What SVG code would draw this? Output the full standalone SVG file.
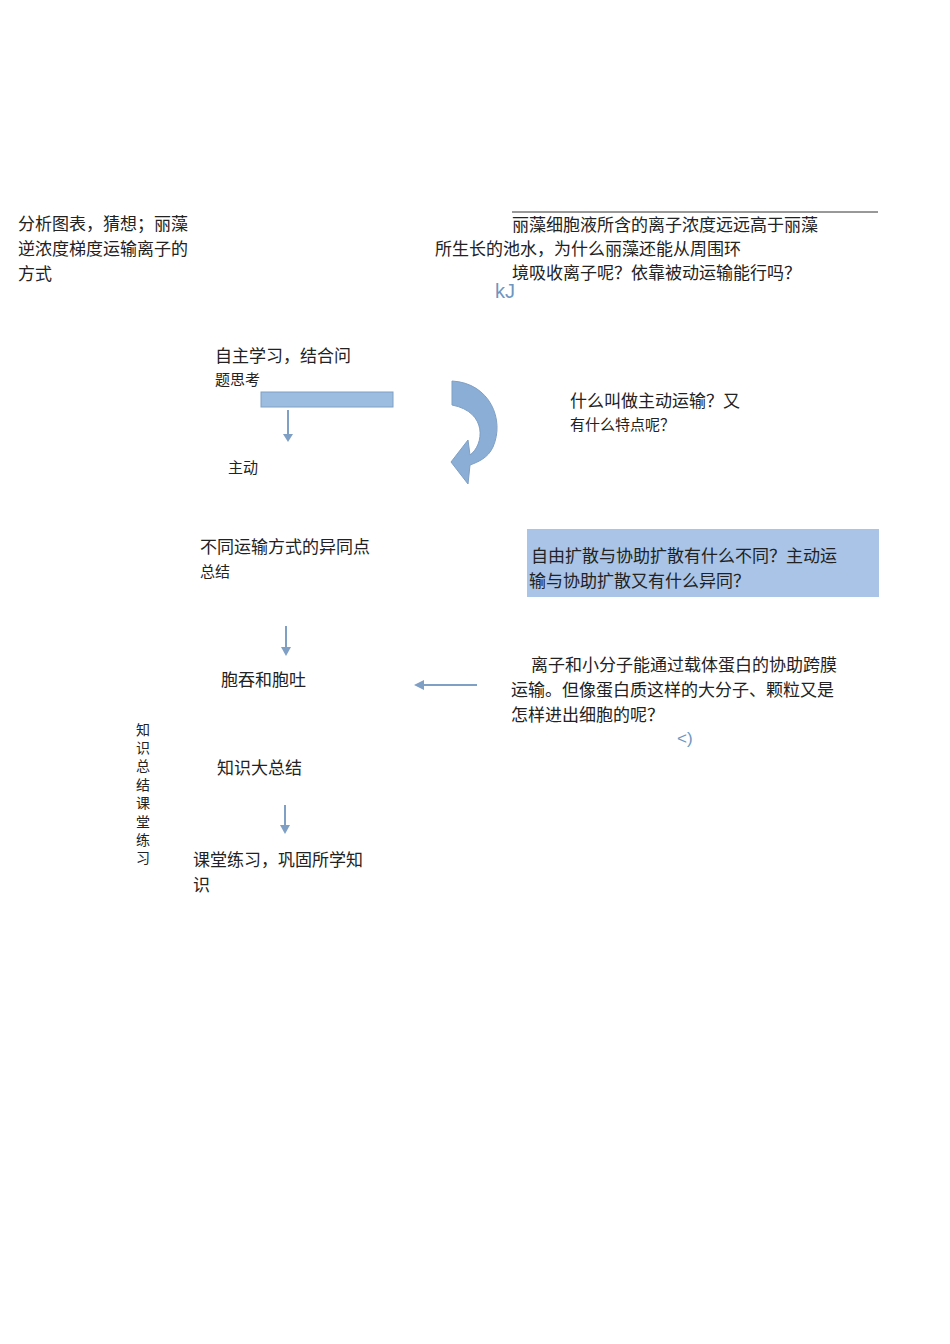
<svg xmlns="http://www.w3.org/2000/svg" width="950" height="1344" viewBox="0 0 950 1344">
<style>
text{font-family:"Noto Sans CJK SC","Noto Sans CJK JP",sans-serif;fill:#222;font-size:17px}
.s{font-size:15px}
.c{stroke:#7f9fc4;stroke-width:2;fill:none}
.h{fill:#7f9fc4}
</style>
<rect width="950" height="1344" fill="#fff"/>
<g id="n1"><text x="18" y="230">分析图表，猜想；丽藻</text><text x="18" y="255">逆浓度梯度运输离子的</text><text x="18" y="280">方式</text></g>
<g id="n2"><line x1="512" y1="212" x2="878" y2="212" stroke="#333" stroke-width="1"/><text x="512" y="231">丽藻细胞液所含的离子浓度远远高于丽藻</text><text x="435" y="255">所生长的池水，为什么丽藻还能从周围环</text><text x="512" y="279">境吸收离子呢？依靠被动运输能行吗？</text><text x="495" y="298" style="fill:#6f96c0;font-family:'Liberation Sans',sans-serif;font-size:20px">kJ</text></g>
<g id="n3"><text x="215" y="362">自主学习，结合问</text><text x="215" y="385" class="s">题思考</text><rect x="261" y="392" width="132" height="15" fill="#9dbde0" stroke="#7f9fc4"/><text x="228" y="473" class="s">主动</text></g>
<g id="n4"><text x="570" y="407">什么叫做主动运输？又</text><text x="570" y="430" class="s">有什么特点呢？</text></g>
<g id="curve"><path d="M452 381 C490 383 505 420 493 447 C488 458 478 462 470 465 L468 484 L451 462 L468 440 L470 455 C484 445 488 412 452 405 Z" fill="#8aaed6" stroke="#7f9fc4"/></g>
<g id="n5"><text x="200" y="553">不同运输方式的异同点</text><text x="200" y="577" class="s">总结</text></g>
<g id="n6"><rect x="527" y="529" width="352" height="68" fill="#a9c4e6"/><text x="531" y="562">自由扩散与协助扩散有什么不同？主动运</text><text x="529" y="587">输与协助扩散又有什么异同？</text></g>
<g id="n7"><text x="221" y="686">胞吞和胞吐</text></g>
<g id="n8"><text x="531" y="671">离子和小分子能通过载体蛋白的协助跨膜</text><text x="511" y="696">运输。但像蛋白质这样的大分子、颗粒又是</text><text x="511" y="721">怎样进出细胞的呢？</text><text x="677" y="744" style="fill:#6f96c0;font-family:'Liberation Sans',sans-serif">&lt;)</text></g>
<g id="n9"><text x="217" y="774">知识大总结</text></g>
<g id="n10"><text x="193" y="866">课堂练习，巩固所学知</text><text x="193" y="891">识</text></g>
<g id="n11" style="font-size:14px"><text x="136" y="735" style="font-size:14px">知</text><text x="136" y="753" style="font-size:14px">识</text><text x="136" y="771" style="font-size:14px">总</text><text x="136" y="790" style="font-size:14px">结</text><text x="136" y="808" style="font-size:14px">课</text><text x="136" y="827" style="font-size:14px">堂</text><text x="136" y="845" style="font-size:14px">练</text><text x="136" y="863" style="font-size:14px">习</text></g>
<g id="connectors">
<line class="c" x1="288" y1="410" x2="288" y2="436"/><path class="h" d="M283 434 L293 434 L288 442 Z"/>
<line class="c" x1="286" y1="626" x2="286" y2="649"/><path class="h" d="M281 647 L291 647 L286 656 Z"/>
<line class="c" x1="477" y1="685" x2="422" y2="685"/><path class="h" d="M424 680 L424 690 L414 685 Z"/>
<line class="c" x1="285" y1="805" x2="285" y2="827"/><path class="h" d="M280 825 L290 825 L285 834 Z"/>
</g>
</svg>
